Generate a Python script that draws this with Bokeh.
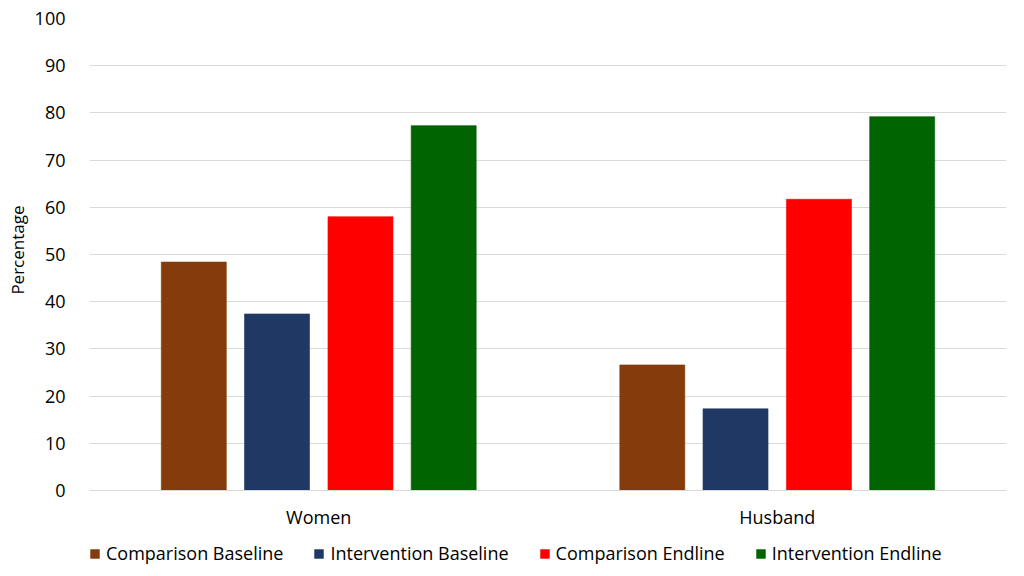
from bokeh.plotting import figure
from bokeh.models import ColumnDataSource, FactorRange, Legend, LegendItem, FixedTicker, Title
from bokeh.transform import dodge
from bokeh.embed import file_html
from bokeh.resources import INLINE

groups = ["Women", "Husband"]
series = ["Comparison Baseline", "Intervention Baseline", "Comparison Endline", "Intervention Endline"]
comparison_baseline = [48.4, 26.6]
intervention_baseline = [37.4, 17.3]
comparison_endline = [58.0, 61.7]
intervention_endline = [77.3, 79.2]
y_ticks = [0, 10, 20, 30, 40, 50, 60, 70, 80, 90, 100]
colors = ["#843C0C", "#1F3864", "#FF0000", "#006400"]

source = ColumnDataSource(dict(
    groups=groups,
    cb=comparison_baseline,
    ib=intervention_baseline,
    ce=comparison_endline,
    ie=intervention_endline,
))

FONT = "Open Sans"

# frame extends below zero so the legend can sit inside it, under the category labels
p = figure(x_range=FactorRange(*groups), y_range=(-16.95, 100),
           frame_width=917, frame_height=552,
           output_backend="svg", toolbar_location=None,
           min_border_left=87, min_border_right=4, min_border_top=18, min_border_bottom=0)

offsets = [-0.2725, -0.091, 0.091, 0.2725]
keys = ["cb", "ib", "ce", "ie"]
renderers = []
for k, off, c in zip(keys, offsets, colors):
    r = p.vbar(x=dodge("groups", off, range=p.x_range), top=k, bottom=0, width=0.1418, source=source,
               fill_color=c, line_color=c, line_width=1, line_alpha=0.6)
    renderers.append(r)

ticker = FixedTicker(ticks=y_ticks)
p.outline_line_color = None
p.xgrid.grid_line_color = None
p.ygrid.ticker = ticker
p.ygrid.grid_line_color = "#D9D9D9"
p.ygrid.grid_line_width = 1
p.yaxis.ticker = ticker
p.yaxis.axis_line_color = None
p.yaxis.major_tick_line_color = None
p.yaxis.minor_tick_line_color = None
p.yaxis.major_label_text_font = FONT
p.yaxis.major_label_text_font_size = "18px"
p.yaxis.major_label_text_color = "#000000"
p.yaxis.major_label_standoff = 18

ylabel = Title(text="Percentage", align="right", offset=187,
               text_font=FONT, text_font_size="17px", text_font_style="normal",
               text_color="#000000", standoff=6)
p.add_layout(ylabel, "left")

p.xaxis.fixed_location = 0
p.xaxis.axis_line_color = "#D9D9D9"
p.xaxis.major_tick_line_color = None
p.xaxis.minor_tick_line_color = None
p.xaxis.major_label_text_font = FONT
p.xaxis.major_label_text_font_size = "18px"
p.xaxis.major_label_text_color = "#000000"
p.xaxis.major_label_standoff = 9

legend = Legend(items=[LegendItem(label=s, renderers=[r]) for s, r in zip(series, renderers)],
                orientation="horizontal", location=(0, 5),
                label_text_font=FONT, label_text_font_size="18px", label_text_color="#000000",
                glyph_width=11, glyph_height=11, spacing=30, label_standoff=6,
                label_height=20,
                border_line_color=None, background_fill_alpha=0, margin=0, padding=2)
p.add_layout(legend, "center")

open("out.html", "w").write(file_html(p, INLINE))
